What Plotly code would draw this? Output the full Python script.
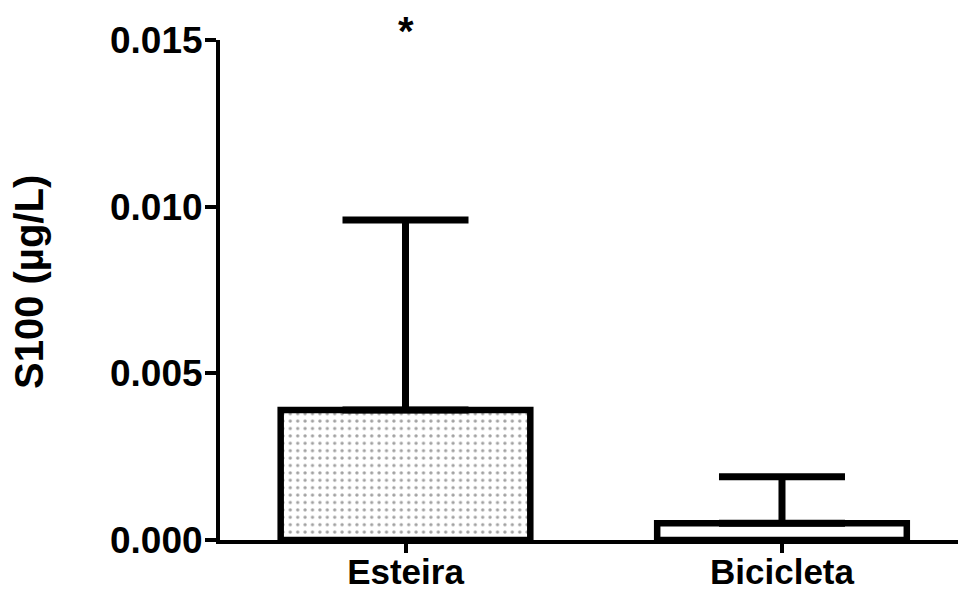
import plotly.graph_objects as go

categories = ["Esteira", "Bicicleta"]
means = [0.0039, 0.0005]
err_plus = [0.0057, 0.0014]
y_ticks = [0.000, 0.005, 0.010, 0.015]
y_ticktext = ["0.000", "0.005", "0.010", "0.015"]
y_title = "S100 (µg/L)"
sig_marks = ["*", ""]

FONT = "Liberation Sans, Arial, sans-serif"
xs = list(range(len(categories)))

fig = go.Figure()
fig.add_trace(go.Bar(
    x=xs,
    y=means,
    width=0.663,
    marker=dict(
        color=["white", "white"],
        line=dict(color="black", width=6.5),
        pattern=dict(shape=[".", ""], fgcolor="black", bgcolor="white",
                     size=7.4, solidity=0.16, fillmode="overlay"),
    ),
    error_y=dict(type="data", symmetric=False, array=err_plus,
                 arrayminus=[0, 0], color="black", thickness=7, width=63),
    showlegend=False,
))

for xi, m, e, s in zip(xs, means, err_plus, sig_marks):
    if s:
        fig.add_annotation(x=xi, y=0.015, text=s, showarrow=False,
                           yanchor="bottom", yshift=-15,
                           font=dict(family=FONT, size=40, color="black", weight="bold"))

fig.add_annotation(xref="paper", yref="paper", x=(29 - 220) / 738, y=(540 - 282) / 500,
                   xanchor="center", yanchor="middle", textangle=-90,
                   text=y_title, showarrow=False,
                   font=dict(family=FONT, size=40, color="black", weight="bold"))

fig.update_layout(
    width=958, height=590,
    margin=dict(l=220, r=0, t=40, b=50, autoexpand=False),
    paper_bgcolor="white", plot_bgcolor="white",
    font=dict(family=FONT, color="black", weight="bold"),
    xaxis=dict(
        range=[-0.4927, 1.4675], automargin=False,
        tickmode="array", tickvals=xs, ticktext=categories,
        showline=True, linecolor="black", linewidth=4,
        ticks="outside", ticklen=9, tickwidth=4, tickcolor="black",
        ticklabelstandoff=-11,
        tickfont=dict(family=FONT, size=35, color="black", weight="bold"),
        showgrid=False, zeroline=False,
    ),
    yaxis=dict(
        range=[0, 0.015], automargin=False,
        tickmode="array", tickvals=y_ticks, ticktext=y_ticktext,
        showline=True, linecolor="black", linewidth=4,
        ticks="outside", ticklen=11, tickwidth=4, tickcolor="black",
        ticklabelstandoff=-5,
        tickfont=dict(family=FONT, size=37, color="black", weight="bold"),
        showgrid=False, zeroline=False,
    ),
)

fig.write_html("out.html")
